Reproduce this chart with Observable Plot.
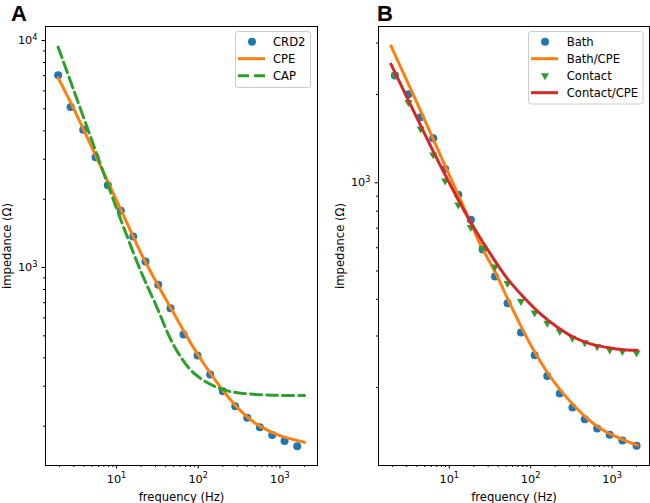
<!DOCTYPE html>
<html><head><meta charset="utf-8">
<script src="https://cdn.jsdelivr.net/npm/d3@7"></script>
<script src="https://cdn.jsdelivr.net/npm/@observablehq/plot@0.6"></script>
<style>
body{margin:0;background:#fff;}
#fig{position:relative;width:650px;height:503px;overflow:hidden;background:#fff;font-family:"DejaVu Sans",sans-serif;}
.panel{position:absolute;top:0;width:325px;height:503px;}
.letter{position:absolute;font-family:"Liberation Sans",Arial,sans-serif;font-weight:bold;font-size:22px;line-height:22px;color:#000;}
</style></head><body>
<div id="fig">
<div id="pa" class="panel" style="left:0"></div>
<div id="pb" class="panel" style="left:325px"></div>
<div class="letter" style="left:11px;top:3px">A</div>
<div class="letter" style="left:377px;top:3px">B</div>
<svg id="leg" width="650" height="503" style="position:absolute;left:0;top:0;pointer-events:none"></svg>
</div>
<script>
// ---- Panel A data ----
const freqCRD2 = [1.93, 2.74, 3.91, 5.53, 7.83, 11.3, 16.0, 22.6, 32.4, 45.8, 66, 98, 140, 200, 284, 398, 568, 805, 1140, 1630];
const impCRD2  = [7040, 5100, 4045, 3062, 2305, 1780, 1370, 1063, 840, 662, 507, 410, 338, 285, 245, 218, 198, 183, 172, 163];
const fitFreqA = [1.93, 3, 5, 8, 12, 20, 30, 50, 80, 120, 200, 300, 500, 800, 1200, 2000];
const impCPE_A = [6850, 5000, 3373, 2346, 1714, 1153, 875, 630, 468, 372, 288, 242, 206, 188, 178, 170];
const impCAP_A = [9340, 6020, 3620, 2270, 1530, 955, 690, 455, 355, 316, 290, 281, 276, 274, 273, 273];

// ---- Panel B data ----
const freqB      = [2.15, 3.15, 4.45, 6.35, 8.9, 12.9, 18.4, 25.7, 36.5, 52, 76, 112, 160, 228, 326, 462, 656, 937, 1340, 2000];
const impBath    = [2323, 2005, 1675, 1420, 1114, 910, 748, 592, 479, 388, 308, 258, 219, 191, 171, 156, 145, 138, 132, 126.5];
const impContact = [2330, 1880, 1528, 1246, 1016, 841, 704, 599, 517, 454, 394, 360, 332, 311, 295, 285, 276, 269, 266, 263];
const fitFreqBath = [1.92, 4, 8, 12, 18, 25, 37, 51, 75, 109, 159, 232, 338, 494, 720, 1050, 1535, 2050];
const impBathCPE  = [2930, 1877, 1221, 950, 738, 603, 493, 407, 326, 268, 226, 196, 174, 157, 145, 137, 131, 127];
const fitFreqContact = [1.92, 7.75, 12.4, 19.9, 35.1, 51.3, 82, 132, 211, 338, 542, 871, 1393, 2050];
const impContactCPE  = [2540, 1146, 893, 705, 550, 472, 407, 357, 322, 297, 282, 274, 269, 268];

// ---- ticks ----
const majorX = [10, 100, 1000];
const majorXLabels = ["10^1", "10^2", "10^3"];
const minorX = [2,3,4,5,6,7,8,9,20,30,40,50,60,70,80,90,200,300,400,500,600,700,800,900,2000];
const majorYA = [1000, 10000];
const majorYALabels = ["10^3", "10^4"];
const minorYA = [200,300,400,500,600,700,800,900,2000,3000,4000,5000,6000,7000,8000,9000];
const majorYB = [1000];
const majorYBLabels = ["10^3"];
const minorYB = [200,300,400,500,600,700,800,900,2000,3000];
const xLabel = "frequency (Hz)";
const yLabel = "impedance (Ω)";

const xDomain = [1.35, 2885];
const yDomainA = [134.2, 11530];
const yDomainB = [108.4, 3415];

const C = {blue:"#1f77b4", orange:"#ff7f0e", green:"#2ca02c", red:"#d62728"};
const FONT = "DejaVu Sans";

const zip = (xs, ys) => xs.map((x, i) => ({x, y: ys[i]}));

function axes(majorY, majorYLabels, minorY, labelOffsetY) {
  const common = {fontFamily: FONT, fill: "black", stroke: "black"};
  return [
    Plot.frame({stroke: "black", strokeWidth: 1}),
    Plot.axisX(minorX, {...common, tickSize: 2, tickFormat: () => "", label: null}),
    Plot.axisX(majorX, {...common, tickSize: 3.5, tickPadding: 5.5,
      tickFormat: d => majorXLabels[majorX.indexOf(d)], label: null}),
    Plot.axisX(majorX, {fontFamily: FONT, fill: "black", tickSize: 0, tickFormat: () => "",
      label: xLabel, labelAnchor: "center", labelOffset: 35, labelArrow: "none"}),
    Plot.axisY(minorY, {...common, tickSize: 2, tickFormat: () => "", label: null}),
    Plot.axisY(majorY, {...common, tickSize: 3.5, tickPadding: 4.5,
      tickFormat: d => majorYLabels[majorY.indexOf(d)], label: null}),
    Plot.axisY(majorY, {fontFamily: FONT, fill: "black", tickSize: 0, tickFormat: () => "",
      label: yLabel, labelAnchor: "center", labelOffset: labelOffsetY, labelArrow: "none"})
  ];
}

// font sizes, and "10^n" tick texts into 10 with a raised exponent
function finishText(svg) {
  d3.select(svg).selectAll("text").each(function () {
    const s = this.textContent;
    const t = d3.select(this);
    if (s === xLabel || s === yLabel) {
      t.style("font-size", "11.6px").style("font-family", FONT);
      return;
    }
    const m = /^10\^(\d+)$/.exec(s);
    if (!m) return;
    t.style("font-size", "11.3px").style("font-family", FONT);
    t.text(null);
    t.append("tspan").text("10");
    t.append("tspan").style("font-size", "8.2px").attr("dy", "-0.5em").text(m[1]);
  });
}

const style = {fontFamily: FONT, fontSize: "11px", color: "black", background: "white", overflow: "visible"};

const plotA = Plot.plot({
  width: 325, height: 503,
  marginLeft: 45, marginRight: 8, marginTop: 26, marginBottom: 38,
  x: {type: "log", domain: xDomain},
  y: {type: "log", domain: yDomainA},
  style,
  marks: [
    Plot.dot(zip(freqCRD2, impCRD2), {x: "x", y: "y", r: 4, fill: C.blue}),
    Plot.line(zip(fitFreqA, impCPE_A), {x: "x", y: "y", stroke: C.orange, strokeWidth: 3, curve: "catmull-rom"}),
    Plot.line(zip(fitFreqA, impCAP_A), {x: "x", y: "y", stroke: C.green, strokeWidth: 3, strokeDasharray: "11,5", curve: "catmull-rom"}),
    ...axes(majorYA, majorYALabels, minorYA, 43)
  ]
});
finishText(plotA);
document.getElementById("pa").append(plotA);

const plotB = Plot.plot({
  width: 325, height: 503,
  marginLeft: 53, marginRight: 1, marginTop: 26, marginBottom: 38,
  x: {type: "log", domain: xDomain},
  y: {type: "log", domain: yDomainB},
  style,
  marks: [
    Plot.dot(zip(freqB, impBath), {x: "x", y: "y", r: 4, fill: C.blue}),
    Plot.line(zip(fitFreqBath, impBathCPE), {x: "x", y: "y", stroke: C.orange, strokeWidth: 3, curve: "catmull-rom"}),
    Plot.dot(zip(freqB, impContact), {x: "x", y: "y", r: 3, symbol: "triangle", rotate: 180, fill: C.green}),
    Plot.line(zip(fitFreqContact, impContactCPE), {x: "x", y: "y", stroke: C.red, strokeWidth: 3, curve: "catmull-rom"}),
    ...axes(majorYB, majorYBLabels, minorYB, 43)
  ]
});
finishText(plotB);
document.getElementById("pb").append(plotB);

// ---- legends ----
const legendA = [
  {type: "dot", color: C.blue, label: "CRD2"},
  {type: "line", color: C.orange, label: "CPE"},
  {type: "dash", color: C.green, label: "CAP"}
];
const legendB = [
  {type: "dot", color: C.blue, label: "Bath"},
  {type: "line", color: C.orange, label: "Bath/CPE"},
  {type: "tri", color: C.green, label: "Contact"},
  {type: "line", color: C.red, label: "Contact/CPE"}
];
const leg = d3.select("#leg");
function drawLegend(entries, box, mx, lx0, lx1, tx, y0) {
  leg.append("rect").attr("x", box[0]).attr("y", box[1]).attr("width", box[2]).attr("height", box[3])
    .attr("rx", 2.5).attr("fill", "white").attr("fill-opacity", 0.8).attr("stroke", "#cccccc").attr("stroke-width", 1);
  entries.forEach((e, i) => {
    const y = y0 + 17 * i;
    if (e.type === "dot") leg.append("circle").attr("cx", mx).attr("cy", y).attr("r", 4).attr("fill", e.color);
    else if (e.type === "tri") leg.append("path").attr("d", d3.symbol(d3.symbolTriangle, Math.PI * 9)())
      .attr("transform", `translate(${mx},${y}) rotate(180)`).attr("fill", e.color);
    else leg.append("line").attr("x1", lx0).attr("x2", lx1).attr("y1", y).attr("y2", y)
      .attr("stroke", e.color).attr("stroke-width", 3).attr("stroke-dasharray", e.type === "dash" ? "11,5" : null);
    leg.append("text").attr("x", tx).attr("y", y).attr("dy", "0.36em").attr("font-family", FONT)
      .attr("font-size", 11.6).attr("fill", "black").text(e.label);
  });
}
drawLegend(legendA, [235.5, 31.5, 75, 56], 252, 238, 265, 273, 41.7);
drawLegend(legendB, [528.5, 31.5, 114.5, 72.5], 545, 531, 558, 566.7, 41.7);
</script>
</body></html>
